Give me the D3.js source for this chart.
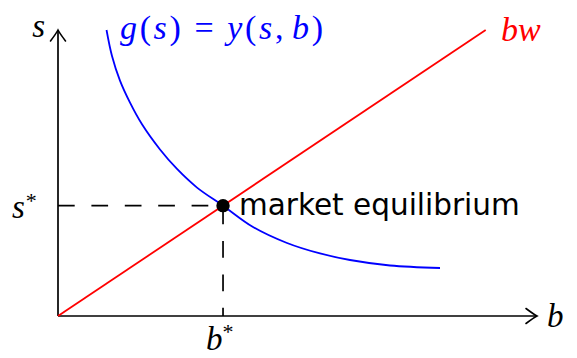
<!DOCTYPE html>
<html>
<head>
<meta charset="utf-8">
<script src="https://cdn.jsdelivr.net/npm/d3@7"></script>
<style>
  html, body { margin: 0; padding: 0; background: #fff; }
  svg { display: block; }
  .math { font-family: "Liberation Serif", "DejaVu Serif", serif; font-style: italic; }
  .up { font-style: normal; }
</style>
</head>
<body>
<svg id="chart" width="577" height="358"></svg>
<script>
// Axis extents (data units)
const bMax = 8.4;
const sMax = 5.0;

// Supply line s = w·b
const w = 2 / 3;
const lineB = [0, 7.5];

// Demand curve g(s) = y(s, b), sampled points [b, s]
const curveB = [0.851, 0.947, 1.087, 1.263, 1.473, 1.789, 2.087, 2.438, 2.894, 3.420, 4.016, 4.595, 5.121, 5.822, 6.699];
const curveS = [5.000, 4.545, 4.114, 3.729, 3.351, 2.911, 2.570, 2.245, 1.929, 1.556, 1.276, 1.093, 0.979, 0.883, 0.839];

// Equilibrium
const bStar = 2.894;
const sStar = w * bStar;

const svg = d3.select("#chart");
const x = d3.scaleLinear().domain([0, bMax]).range([58, 537]);
const y = d3.scaleLinear().domain([0, sMax]).range([316, 30]);

const defs = svg.append("defs");
defs.append("marker")
  .attr("id", "arrow")
  .attr("viewBox", "-14 -9 16 18")
  .attr("refX", 0).attr("refY", 0)
  .attr("markerWidth", 16).attr("markerHeight", 18)
  .attr("markerUnits", "userSpaceOnUse")
  .attr("orient", "auto")
  .append("path")
  .attr("d", "M-11,-7.5 Q-3,-1.5 0,0 Q-3,1.5 -11,7.5")
  .attr("fill", "none")
  .attr("stroke", "#000")
  .attr("stroke-width", 1.6)
  .attr("stroke-linecap", "round");

// Dashed guides to the equilibrium
svg.append("line")
  .attr("x1", x(0)).attr("y1", y(sStar))
  .attr("x2", x(bStar)).attr("y2", y(sStar))
  .attr("stroke", "#000").attr("stroke-width", 1.7)
  .attr("stroke-dasharray", "16.7,16.7");
svg.append("line")
  .attr("x1", x(bStar)).attr("y1", y(sStar))
  .attr("x2", x(bStar)).attr("y2", y(0))
  .attr("stroke", "#000").attr("stroke-width", 1.7)
  .attr("stroke-dasharray", "16.7,16.7")
  .attr("stroke-dashoffset", -2);

// Axes
svg.append("line")
  .attr("x1", x(0)).attr("y1", y(0))
  .attr("x2", x(bMax)).attr("y2", y(0))
  .attr("stroke", "#000").attr("stroke-width", 1.7)
  .attr("marker-end", "url(#arrow)");
svg.append("line")
  .attr("x1", x(0)).attr("y1", y(0))
  .attr("x2", x(0)).attr("y2", y(sMax))
  .attr("stroke", "#000").attr("stroke-width", 1.7)
  .attr("marker-end", "url(#arrow)");

// Supply line
svg.append("line")
  .attr("x1", x(lineB[0])).attr("y1", y(w * lineB[0]))
  .attr("x2", x(lineB[1])).attr("y2", y(w * lineB[1]))
  .attr("stroke", "#ff0000").attr("stroke-width", 1.8);

// Demand curve
const pts = curveB.map((b, i) => [b, curveS[i]]);
svg.append("path")
  .datum(pts)
  .attr("fill", "none")
  .attr("stroke", "#0000ff")
  .attr("stroke-width", 1.8)
  .attr("d", d3.line().x(d => x(d[0])).y(d => y(d[1])).curve(d3.curveCatmullRom.alpha(0.5)));

// Equilibrium point
svg.append("circle")
  .attr("cx", x(bStar)).attr("cy", y(sStar)).attr("r", 6.7)
  .attr("fill", "#000");

// Labels
svg.append("text").attr("class", "math")
  .attr("x", 45).attr("y", 37).attr("text-anchor", "end")
  .attr("font-size", 33).text("s");

svg.append("text").attr("class", "math")
  .attr("x", 547).attr("y", 327)
  .attr("font-size", 33).text("b");

const sLab = svg.append("text").attr("class", "math")
  .attr("x", 12).attr("y", y(sStar) + 12)
  .attr("font-size", 33);
sLab.append("tspan").text("s");
sLab.append("tspan").attr("class", "up").attr("dx", 1).attr("dy", -10).attr("font-size", 22).text("*");

const bLab = svg.append("text").attr("class", "math")
  .attr("x", 206).attr("y", 350)
  .attr("font-size", 33);
bLab.append("tspan").text("b");
bLab.append("tspan").attr("class", "up").attr("dy", -11).attr("font-size", 22).text("*");

// g(s) = y(s, b) with math spacing around "=" and after ","
const gLab = svg.append("text").attr("class", "math")
  .attr("x", 120).attr("y", 39)
  .attr("font-size", 34).attr("fill", "#0000ff")
  .attr("textLength", 203).attr("lengthAdjust", "spacing");
gLab.append("tspan").text("g");
gLab.append("tspan").attr("class", "up").text("(");
gLab.append("tspan").text("s");
gLab.append("tspan").attr("class", "up").text(")");
gLab.append("tspan").attr("class", "up").attr("dx", 11).text("=");
gLab.append("tspan").attr("dx", 11).text("y");
gLab.append("tspan").attr("class", "up").text("(");
gLab.append("tspan").text("s");
gLab.append("tspan").attr("class", "up").text(",");
gLab.append("tspan").attr("dx", 6).text("b");
gLab.append("tspan").attr("class", "up").text(")");

svg.append("text").attr("class", "math")
  .attr("x", 501).attr("y", 41)
  .attr("font-size", 34).attr("fill", "#ff0000").text("bw");

svg.append("text")
  .attr("x", 239).attr("y", 215)
  .attr("font-family", "'DejaVu Sans', sans-serif")
  .attr("font-size", 29.5).text("market equilibrium");
</script>
</body>
</html>
